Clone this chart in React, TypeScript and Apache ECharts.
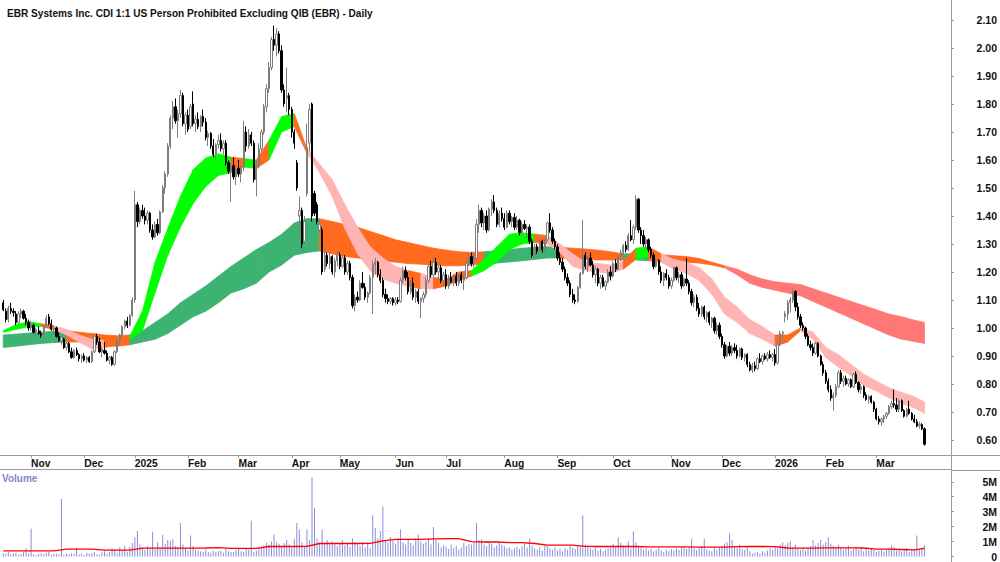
import React, { useEffect, useRef } from "react";
import * as echarts from "echarts";

const TITLE = "EBR Systems Inc. CDI 1:1 US Person Prohibited Excluding QIB (EBR) - Daily";
const FONT = '"Liberation Sans", Arial, sans-serif';

// ASX trading calendar
const START_DATE = "2024-10-17";
const HOLIDAYS = ["2024-12-25", "2024-12-26", "2025-01-01", "2025-01-27", "2025-04-18", "2025-04-21", "2025-04-25", "2025-06-09", "2025-12-25", "2025-12-26", "2026-01-01", "2026-01-26"];
const PAD_SLOTS = 10;
const MONTHS = ["Jan", "Feb", "Mar", "Apr", "May", "Jun", "Jul", "Aug", "Sep", "Oct", "Nov", "Dec"];

// daily bars in cents: [open, high, low, close]
const bars: number[][] = [
  // Oct 2024
  [109,110,106,106.5],[106,107,102,103],[103,108,102,107],[107,109,105,106],[106,107,104,105.5],[105,106,101,102],[102,106,101.5,105],[105,107,103.5,106],[106,106.5,103,103.5],[103.5,105,101,102],[102,103,99,100],
  // Nov
  [100,102.5,99,101.5],[101,101.5,98,98.5],[98.5,100,97,99.5],[99,100.5,97.5,98],[98,99,96.5,97.5],[97.5,101,97,100.5],[100.5,104.5,100,103.5],[104,105,101,101.5],[101.5,103,99,99.5],[99.5,101,98,100],[100,100.5,96.5,97],[97,98.5,95,95.5],[95.5,97,94,96.5],[96,96.5,92.5,93],[93,95,92,94.5],[94.5,95,91,91.5],[91.5,93,89,89.5],[89.5,92.5,89,92],[92,93,90,90.5],[90.5,91,88,89],[89,90.5,87.5,90],
  // Dec
  [90,91,88,88.5],[88.5,90,87.5,89.5],[89.5,90,87.5,88],[88,92,87.5,91.5],[91.5,98,91,97],[97,98,94,95],[95,96.5,91,91.5],[91.5,93,89.5,92.5],[92,95,90.5,91],[91,92,88,88.5],[88.5,90,87,89.5],[89.5,90,86.5,87],[87,92,86.5,91.5],[91.5,96,91,95.5],[95.5,98,94,97.5],[97.5,101,96.5,100.5],[100.5,103,99.5,102.5],[102.5,104,100,101],[101,105,100.5,104.5],[104.5,111,104,110],
  // Jan 2025
  [110,149,109,144],[144,145,136,138],[138,143,137,142],[142,144,139,140],[140,143,137,138.5],[138.5,142,137,141],[141,141.5,134,135],[135,137,131.5,132.5],[132.5,138,132,137],[137,139,133,134],[134,142,133.5,141.5],[141.5,151,141,150],[150,156,148,155],[155,166,154,165],[165,176,164,175],[175,181,171,179],[179,182,173,174],[174,178,168,176.5],[176.5,185,175,183],[183,184,172,173],[173,177,169,176],
  // Feb
  [176,178,170,171],[172,180,171,179],[180,184.5,172,173],[173,176,170,174.5],[174.5,177,171,172],[172,176,170,175.5],[175.5,178,172,173.5],[173.5,175,167,168],[168,170.5,165,169.5],[169.5,170,164,165],[165,167.5,161,162],[162,166,160,165.5],[165.5,169,164,167],[167,169.5,163,164],[164,167,162,166],[166,167,158,159],[159,160,155,156],[156,159,145,158],[158,161,153,154],[154,157.5,151,157],
  // Mar
  [157,160,154,155],[155,158,152,157.5],[157.5,174,156,170],[170,172,163,165],[165,171,164,169],[169,170,165,166],[166,167,152,153],[153,160,147,158],[158,166,157,164],[164,171,163,170],[170,180,169,179],[179,187,177,185.5],[185.5,195,184,193],[193,204,192,203],[203,208,199,201],[201,207,197,205],[205,206,198,199],[199,201,184,185],[185,187,179,180],[182,193,177,183],[183,184,176,178],
  // Apr
  [178,179,168,170],[170,171,164,166],[159,160,149,150],[140,147,134,142],[142,143,128.5,130],[131,140,130,138],[148,173,147,164.5],[166,180,163,178],[180,180.5,138,140],[148,149,140,141],[144,145,137,138],[135,138,134,137],[135,136,119,120],[121,128,120,126],[126,127,122,123],[123,127,121,125.5],[125.5,126,119,120],[120,125,118,124],[124,127.5,122,126],
  // May
  [126,127,121,122],[122,126,121.5,125],[125,126,119,120],[120,124,119,123],[123,124,117,118],[118,119,107,108],[108,112,106,111],[111,113,109,110],[110,117,109.5,116],[116,120,114,114.5],[114.5,116,110,111],[111,113,109,112.5],[112.5,119,112,118],[118,124,105,122.5],[122.5,125,119,123.5],[123.5,124,118,119],[119,121,116,117],[117,118,111,112],[112,114,109,110.5],[110.5,112,108.5,109.5],[109.5,111,108.5,110.5],[110.5,111,108,109],
  // Jun
  [109,111,108,110],[110,111,108.5,109.5],[109.5,118,109,117],[117,122,116,120.5],[120.5,122,117,118],[118,120,112,113],[113,117,112,116],[116,118,110,111],[111,114,109,113],[113,114,108.5,109.5],[109.5,111,103.5,110.5],[110.5,113,109,112],[112,118,111,117],[117,123,116,122],[122,124,118,119],[119,125,118,123.5],[123.5,125,119,120],[120,123,117,121.5],[121.5,122.5,116,117],[117,120,115,119],
  // Jul
  [119,121,114,115],[115,119,114,118],[118,120,116,116.5],[116.5,119,115,118.5],[118.5,120,115,116],[116,119.5,115,119],[119,120,116,117],[117,119,113.5,118],[118,124,117.5,123],[123,127,122,125.5],[125.5,127,122,123],[123,126,121.5,125],[125,139,124.5,137],[137,144,134,142],[142,143,136,137.5],[137.5,141,135,140],[140,142,134,135],[135,143,134.5,142.5],[142.5,146,140,145],[145,147.5,141,142],[142,143,136,137],[137,142,136,141],[141,143,138,139],
  // Aug
  [139,141,135,136],[136,142,135.5,141],[141,142,137,138],[138,140,136,139.5],[139.5,141,135,136],[136,140,135,138.5],[138.5,139,133,134],[134,138,133,137],[137,138.5,135,135.5],[135.5,137,132,136],[136,137,130,131],[131,132,125,126],[126,130,125,129],[129,130,126.5,127.5],[127.5,132,127,131],[131,131.5,127,128],[128,132,127.5,131.5],[131.5,138,131,137.5],[137.5,141,134,135],[135,136,130,131],[131,132,128,129],
  // Sep
  [129,130,124,125],[125,127,122.5,123.5],[123.5,125,120,121],[121,122,117,118],[118,119.5,115,116],[116,117,111,112],[112,114,109,110],[110,112,108.5,109.5],[109.5,115,109,114.5],[114.5,120,114,119.5],[119.5,138.5,119,126],[126,127,121,122],[122,126,120,125],[125,127,122,122.5],[122.5,124,118,119],[119,122,116,121],[121,121.5,115,116],[116,119,114,118],[118,119,114.5,115],[115,117,113.5,116.5],[116.5,121,116,120],[120,122,117,118.5],
  // Oct
  [118.5,124,118,123],[123,124.5,120,121],[121,126,120.5,125.5],[125.5,128,124,127],[127,130,125,129.5],[129.5,131,127,128],[128,134,127.5,133],[133,138.5,131,131.5],[131.5,137,130,136],[136,147.5,135,146],[146,146.5,134,135],[135,136,130,133],[133,135,129,130],[130,132.5,128,131.5],[131.5,132,127,128],[128,129,125,126],[126,127,121,122],[122,125,121.5,124],[124,124.5,119,120],[120,122,116,117],[117,120,115,119.5],[119.5,121,117,118],[118,119,114,115],
  // Nov
  [115,118,114,117],[117,122,116.5,121.5],[121.5,122,117,118],[118,120,116,119],[119,120,114,115],[115,118,114.5,117.5],[117.5,125,115,116],[116,117,112,113],[113,114,108,109],[109,112,107.5,111],[111,112,106,107],[107,109,104,105],[105,108,104,107.5],[107.5,108,103,104],[104,106,102,105.5],[105.5,106,101,102],[102,104,100,103.5],[103.5,104,98,99],[99,102,97.5,101],[101,102,96,97],
  // Dec
  [97,98,93,94],[94,95,89,90],[90,94,89.5,93.5],[93.5,95,90,91],[91,94,90,93],[93,94.5,91,92],[92,94,89,90],[90,93,89.5,92.5],[92.5,93,88.5,89.5],[89.5,91,88,90.5],[90.5,91,86,87],[87,88,84.5,85],[85,87.5,84,86.5],[86.5,88,84.5,85.5],[85.5,89.5,85,89],[89,91,87.5,88],[88,90.5,87,90],[90,91,88.5,89],[89,91.5,88,90.5],[90.5,92,89,89.5],[89.5,91,88,90.5],
  // Jan 2026
  [90.5,92.5,86.5,87.5],[87.5,95,87,94],[94,99,93.5,98],[98,99,96,98.5],[104,106,102,105],[105,110,103,109],[109,111,105.5,110],[110,114,109,113],[113,113.5,106,107.5],[107.5,109,103,104],[104,105,100,101],[101,102,99,100],[100,100.5,96,97],[97,98,93.5,94],[94,95.5,92,93],[93,94.5,90,91],[91,95,90.5,94.5],[94.5,95,89.5,90],[90,90.5,86.5,87],[87,88,83,84],
  // Feb
  [84,85,80,81],[81,82,77,78],[78,79.5,74,75],[75,77,70.5,76],[76,80,75,79],[79,85,78.5,84],[84,85,80,81],[81,83,79,82],[82,83,79.5,80],[80,82,79,81.5],[81.5,82,78.5,79],[79,84,78.5,83.5],[83.5,84.5,80,80.5],[80.5,81,77,78],[78,80,76.5,79],[79,79.5,75,76],[76,77,74,74.5],[74.5,76,73,75.5],[75.5,76,73,73.5],[73.5,74,70,71],
  // Mar
  [71,71.5,67,67.5],[67.5,68.5,65.5,66.5],[66.5,68,65,67.5],[67.5,69,66,68.5],[68.5,70,67.5,69.5],[69.5,72.5,69,72],[72,74,71,73],[73,78,71.5,72.5],[72.5,75,70,71],[71,74.5,70,74],[74,74.5,70,70.5],[70.5,71,68,68.5],[68.5,71.5,68,71],[71,74,69,69.5],[69.5,70,67,67.5],[67.5,69,66,66.5],[66.5,67.5,64.5,65],[65,66.5,64,65.5],[65.5,66,63.5,64],[64,64.5,58,58.5],
];

// daily volume in units of 10,000 shares
const volumes: number[] = [
  22,18,30,15,20,25,12,18,28,55, 20,186,15,10,18,22,14,25,30,12, 18,20,15,385,12,20,15,22,18,58, 14,20,10,25,18,22,30,15,12,28,
  35,20,30,55,45,25,60,38,70,30, 65,90,127,170,80,60,45,70,55,165, 50,95,60,145,85,110,105,115,70,60, 225,80,55,40,140,70,45,40,35,30,
  45,30,25,38,30,35,40,25,50,35, 30,28,45,55,35,30,50,45,240,30, 40,55,65,75,90,80,100,147,95,85, 70,90,110,80,60,120,225,180,95,70,
  180,110,530,325,120,95,180,90,110,80, 100,85,70,90,110,75,85,65,120,95, 80,70,95,60,85,55,275,190,120,170, 335,110,95,130,105,85,120,180,95,80,
  110,90,75,120,147,100,85,95,120,80, 197,110,90,60,75,65,50,80,55,70, 45,60,90,70,85,80,95,225,110,115, 80,70,95,85,60,75,90,80,70,55,
  60,45,55,65,50,70,85,60,120,75, 55,45,60,40,75,70,55,45,60,40, 50,35,55,45,70,60,50,75,65,275, 80,70,55,45,60,40,50,35,45,55,
  60,85,70,127,90,75,60,100,55,167, 95,70,60,45,55,40,50,35,45,60, 40,30,45,35,50,40,55,45,60,70, 50,65,120,55,45,60,70,120,50,40,
  35,55,45,60,70,85,95,155,110,70, 60,80,50,45,70,35,20,25,30,20, 35,25,40,55,45,70,60,80,95,75, 90,100,60,80,50,45,60,40,55,70,
  110,75,90,110,80,95,130,85,70,65, 80,60,45,55,70,40,50,65,45,60, 35,50,40,55,45,30,40,50,35,45, 60,75,65,40,50,35,45,55,30,40,
  50,140,45,60,75,
];

// ribbons & volume average, read at every 5th bar (last at bar 364)
const sampleBars: number[] = [0,5,10,15,20,25,30,35,40,45,50,55,60,65,70,75,80,85,90,95,100,105,110,115,120,125,130,135,140,145,150,155,160,165,170,175,180,185,190,195,200,205,210,215,220,225,230,235,240,245,250,255,260,265,270,275,280,285,290,295,300,305,310,315,320,325,330,335,340,345,350,355,360,364];

const shortTop: number[] = [0.99,1.012,1.022,1.015,1.008,0.995,0.975,0.96,0.955,0.955,0.97,1.06,1.235,1.355,1.47,1.565,1.607,1.622,1.61,1.605,1.6,1.67,1.755,1.765,1.64,1.585,1.53,1.44,1.36,1.29,1.25,1.22,1.205,1.195,1.18,1.175,1.2,1.205,1.245,1.29,1.335,1.34,1.335,1.33,1.3,1.265,1.235,1.23,1.225,1.24,1.285,1.29,1.265,1.245,1.235,1.215,1.175,1.11,1.075,1.03,1.005,0.975,0.975,1.0,0.985,0.93,0.905,0.87,0.835,0.81,0.787,0.77,0.755,0.735];
const shortBot: number[] = [0.985,0.995,1.005,1.005,0.995,0.975,0.95,0.925,0.93,0.94,0.96,0.99,1.127,1.26,1.36,1.445,1.505,1.545,1.555,1.575,1.57,1.6,1.7,1.72,1.625,1.555,1.47,1.355,1.265,1.205,1.175,1.16,1.15,1.14,1.14,1.15,1.17,1.185,1.205,1.235,1.28,1.3,1.305,1.3,1.27,1.22,1.205,1.2,1.195,1.21,1.245,1.255,1.235,1.21,1.195,1.17,1.12,1.05,1.02,0.98,0.96,0.935,0.95,0.99,0.96,0.895,0.86,0.83,0.795,0.775,0.75,0.73,0.715,0.695];
// g = bullish, o = mixed, p = bearish (one letter per sample, ten per group)
const shortState = ["gggoppppoo", "ggggggggog", "oggopppppp", "ppopoooggg", "ggoppppppo", "gopppppppp", "pooppppppp", "pppp"].join("");

const longTop: number[] = [0.975,0.978,0.982,0.985,0.988,0.99,0.985,0.98,0.975,0.972,0.975,0.99,1.02,1.05,1.09,1.12,1.15,1.185,1.22,1.25,1.28,1.305,1.335,1.375,1.39,1.39,1.38,1.37,1.36,1.345,1.33,1.315,1.305,1.295,1.285,1.278,1.272,1.27,1.272,1.276,1.28,1.285,1.288,1.29,1.288,1.285,1.282,1.278,1.272,1.265,1.265,1.265,1.262,1.258,1.255,1.248,1.235,1.222,1.21,1.19,1.175,1.165,1.16,1.155,1.14,1.125,1.11,1.095,1.08,1.065,1.05,1.04,1.028,1.02];
const longBot: number[] = [0.93,0.935,0.94,0.945,0.948,0.95,0.95,0.945,0.935,0.935,0.94,0.95,0.96,0.98,1.01,1.04,1.06,1.09,1.125,1.14,1.16,1.2,1.225,1.26,1.27,1.275,1.265,1.255,1.25,1.245,1.24,1.235,1.23,1.228,1.225,1.222,1.222,1.225,1.228,1.232,1.236,1.24,1.245,1.25,1.25,1.248,1.245,1.243,1.243,1.243,1.243,1.24,1.238,1.236,1.235,1.232,1.225,1.215,1.19,1.16,1.145,1.135,1.125,1.115,1.095,1.075,1.055,1.035,1.015,0.995,0.975,0.96,0.952,0.945];
// d = bullish, o = mixed, r = bearish
const longState = ["dddddooooo", "dddddddddd", "dddddooooo", "oooooooodd", "ddddoooood", "doooooorrr", "rrrrrrrrrr", "rrrr"].join("");

// volume moving average (millions)
const volAvg: number[] = [0.38,0.38,0.38,0.38,0.38,0.49,0.49,0.49,0.43,0.43,0.43,0.56,0.56,0.56,0.56,0.56,0.57,0.6,0.54,0.54,0.54,0.67,0.67,0.67,0.68,0.87,0.87,0.87,0.87,0.88,1.04,1.15,1.15,1.15,1.18,1.2,1.2,1.0,0.97,0.97,0.93,0.93,0.87,0.76,0.76,0.76,0.68,0.67,0.67,0.67,0.67,0.65,0.65,0.65,0.64,0.63,0.63,0.63,0.66,0.67,0.67,0.66,0.57,0.56,0.56,0.58,0.58,0.58,0.57,0.49,0.49,0.47,0.45,0.55];

const priceTicks = [0.6,0.7,0.8,0.9,1.0,1.1,1.2,1.3,1.4,1.5,1.6,1.7,1.8,1.9,2.0,2.1];
const volTicks = [0, 1e6, 2e6, 3e6, 4e6, 5e6];

const SHORT_COLORS: Record<string, string> = { g: "#00FF00", o: "#FF6A1E", p: "#FFB4B4" };
const LONG_COLORS: Record<string, string> = { d: "#3CB371", o: "#FF6A1E", r: "#FF7777" };

function buildDates(n: number): string[] {
  const hol = new Set(HOLIDAYS);
  const out: string[] = [];
  const d = new Date(START_DATE + "T00:00:00Z");
  while (out.length < n) {
    const wd = d.getUTCDay();
    const iso = d.toISOString().slice(0, 10);
    if (wd !== 0 && wd !== 6 && !hol.has(iso)) out.push(iso);
    d.setUTCDate(d.getUTCDate() + 1);
  }
  return out;
}

function ribbon(tops: number[], bots: number[], states: string, colors: Record<string, string>, z: number) {
  const data: number[][] = [];
  const cols: string[] = [];
  for (let k = 0; k < sampleBars.length - 1; k++) {
    data.push([sampleBars[k], tops[k], bots[k], sampleBars[k + 1], tops[k + 1], bots[k + 1]]);
    cols.push(colors[states[k]] || "#999");
  }
  return {
    type: "custom",
    xAxisIndex: 0,
    yAxisIndex: 0,
    z,
    silent: true,
    encode: { x: 0, y: 1 },
    data,
    renderItem: (params: any, api: any) => {
      const d = data[params.dataIndex];
      const c = cols[params.dataIndex];
      const a = api.coord([d[0], d[1]]);
      const b = api.coord([d[3], d[4]]);
      const e = api.coord([d[3], d[5]]);
      const f = api.coord([d[0], d[2]]);
      return {
        type: "polygon",
        shape: { points: [a, b, e, f] },
        style: { fill: c, stroke: c, lineWidth: 0.8 },
      };
    },
  };
}

function buildOption() {
  const n = bars.length;
  const dates = buildDates(n);
  const cats = dates.concat(Array.from({ length: PAD_SLOTS }, (_, i) => "pad" + i));
  const isMonthStart = (idx: number) => {
    if (idx <= 0 || idx >= n) return false;
    return dates[idx].slice(5, 7) !== dates[idx - 1].slice(5, 7);
  };
  const fmt = (v: string) => {
    if (v.startsWith("pad")) return "";
    const m = parseInt(v.slice(5, 7), 10) - 1;
    return m === 0 ? v.slice(0, 4) : MONTHS[m];
  };
  const grey = "#9a9a9a";
  const candle = bars.map((b) => [b[0] / 100, b[3] / 100, b[2] / 100, b[1] / 100]);
  const vol = volumes.map((v) => v * 1e4);
  const volLine = sampleBars.map((i, k) => [i, volAvg[k] * 1e6]);

  return {
    animation: false,
    backgroundColor: "#ffffff",
    title: {
      text: TITLE,
      left: 2,
      top: 3,
      textStyle: { fontFamily: FONT, fontSize: 10.1, fontWeight: "bold", color: "#111" },
    },
    grid: [
      { left: 2, right: 49, top: 0, height: 455 },
      { left: 2, right: 49, top: 470, height: 88 },
    ],
    xAxis: [
      {
        type: "category",
        gridIndex: 0,
        data: cats,
        boundaryGap: true,
        axisLine: { show: false },
        axisTick: { show: true, alignWithLabel: true, interval: (i: number) => isMonthStart(i), length: 3, lineStyle: { color: grey } },
        axisLabel: {
          interval: (i: number) => isMonthStart(i),
          formatter: fmt,
          align: "left",
          margin: 3,
          fontFamily: FONT,
          fontSize: 10.3,
          fontWeight: "bold",
          color: "#111",
        },
        splitLine: { show: false },
      },
      {
        type: "category",
        gridIndex: 1,
        data: cats,
        boundaryGap: true,
        axisLine: { show: false },
        axisTick: { show: false },
        axisLabel: { show: false },
        splitLine: { show: false },
      },
    ],
    yAxis: [
      {
        type: "value",
        gridIndex: 0,
        position: "right",
        min: 0.5464,
        max: 2.1714,
        splitLine: { show: false },
        axisLine: { show: false },
        axisTick: { show: true, customValues: priceTicks, length: 3, lineStyle: { color: grey } },
        axisLabel: {
          customValues: priceTicks,
          formatter: (v: number) => v.toFixed(2),
          align: "right",
          margin: 46,
          fontFamily: FONT,
          fontSize: 10.5,
          fontWeight: "bold",
          color: "#111",
        },
      },
      {
        type: "value",
        gridIndex: 1,
        position: "right",
        min: 0,
        max: 5.79e6,
        splitLine: { show: false },
        axisLine: { show: false },
        axisTick: { show: true, customValues: volTicks, length: 3, lineStyle: { color: grey } },
        axisLabel: {
          customValues: volTicks,
          formatter: (v: number) => (v === 0 ? "0" : Math.round(v / 1e6) + "M"),
          align: "right",
          margin: 46,
          fontFamily: FONT,
          fontSize: 10.5,
          fontWeight: "bold",
          color: "#111",
        },
      },
    ],
    graphic: [
      { type: "line", shape: { x1: 0, y1: 455.5, x2: 1000, y2: 455.5 }, style: { stroke: grey, lineWidth: 1 }, silent: true },
      { type: "line", shape: { x1: 0, y1: 469.5, x2: 951, y2: 469.5 }, style: { stroke: grey, lineWidth: 1 }, silent: true },
      { type: "line", shape: { x1: 951, y1: 470.5, x2: 1000, y2: 470.5 }, style: { stroke: grey, lineWidth: 1 }, silent: true },
      { type: "line", shape: { x1: 951.5, y1: 0, x2: 951.5, y2: 562 }, style: { stroke: grey, lineWidth: 1 }, silent: true },
      {
        type: "text",
        left: 2,
        top: 473,
        style: { text: "Volume", fontFamily: FONT, fontSize: 10, fontWeight: "bold", fill: "#8585C8" },
        silent: true,
      },
    ],
    series: [
      ribbon(longTop, longBot, longState, LONG_COLORS, 1),
      ribbon(shortTop, shortBot, shortState, SHORT_COLORS, 2),
      {
        type: "candlestick",
        xAxisIndex: 0,
        yAxisIndex: 0,
        z: 3,
        barWidth: 1.8,
        data: candle,
        itemStyle: {
          color: "#ffffff",
          color0: "#000000",
          borderColor: "#7d7d7d",
          borderColor0: "#000000",
          borderWidth: 1,
        },
      },
      {
        type: "bar",
        xAxisIndex: 1,
        yAxisIndex: 1,
        barWidth: 1,
        data: vol,
        itemStyle: { color: "#8D8DD8" },
      },
      {
        type: "line",
        xAxisIndex: 1,
        yAxisIndex: 1,
        data: volLine,
        showSymbol: false,
        symbol: "none",
        lineStyle: { color: "#FF0000", width: 1.3 },
        z: 4,
      },
    ],
  };
}

export default function App() {
  const ref = useRef<HTMLDivElement>(null);
  useEffect(() => {
    if (!ref.current) return;
    const chart = echarts.init(ref.current, null, { renderer: "svg" });
    chart.setOption(buildOption() as any);
    return () => chart.dispose();
  }, []);
  return (
    <div
      ref={ref}
      style={{ position: "absolute", left: 0, top: 0, width: 1000, height: 562, background: "#fff" }}
    />
  );
}
